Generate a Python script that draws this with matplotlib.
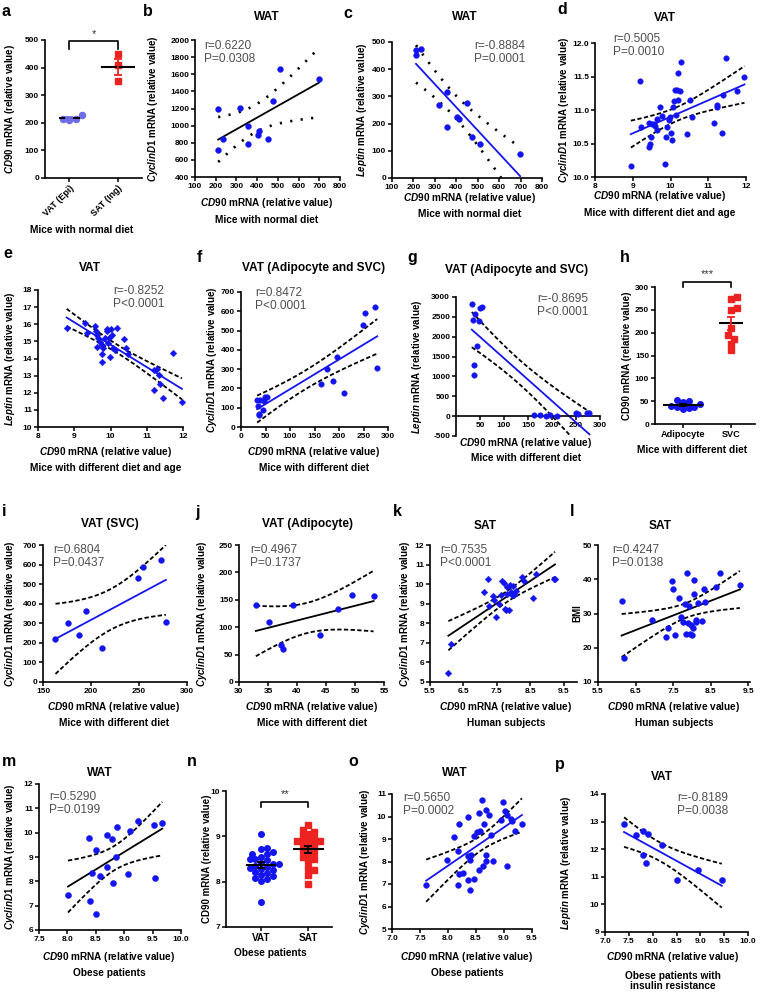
import matplotlib

matplotlib.use("Agg")
import matplotlib.pyplot as plt
import numpy as np
from matplotlib.ticker import FormatStrFormatter

plt.rcParams["font.family"] = ["Liberation Sans", "DejaVu Sans"]
plt.rcParams["font.weight"] = "bold"
plt.rcParams["mathtext.fontset"] = "custom"
plt.rcParams["mathtext.it"] = "Liberation Sans:italic:bold"
plt.rcParams["mathtext.rm"] = "Liberation Sans:bold"
plt.rcParams["mathtext.bf"] = "Liberation Sans:bold"
plt.rcParams["axes.linewidth"] = 1.2

BLUE = "#1414f0"
RED = "#ec2320"
LILAC = "#6e6ee8"
GREY = "#505050"

# ---------------- data ----------------
# a: CD90 in VAT (Epi) vs SAT (Ing), mice with normal diet
a_vat = [230, 215, 209, 213]
a_sat = [450, 410, 350]

# b, c: WAT, mice with normal diet
normal_cd90 = [212, 212, 237, 317, 355, 355, 403, 411, 452, 475, 512, 698]
normal_cyclin = [1200, 720, 840, 1210, 990, 785, 890, 940, 845, 1285, 1660, 1545]
normal_leptin = [470, 454, 476, 268, 317, 189, 223, 217, 277, 152, 124, 89]

# d: VAT, diet and age, CD90 vs CyclinD1
d_cd90 = [8.95, 9.19, 9.22, 9.44, 9.44, 9.46, 9.48, 9.50, 9.55, 9.60, 9.64, 9.65,
          9.73, 9.77, 9.86, 9.88, 9.92, 9.97, 9.99, 10.01, 10.04, 10.06, 10.08,
          10.12, 10.15, 10.17, 10.19, 10.21, 10.26, 10.27, 10.52, 10.58, 10.43,
          11.15, 11.23, 11.23, 11.36, 11.39, 11.48, 11.76, 11.96]
d_cyclin = [10.17, 11.44, 10.75, 10.81, 10.45, 10.49, 10.60, 10.79, 10.79, 10.76,
            10.70, 10.87, 11.05, 10.91, 10.20, 10.60, 10.75, 10.85, 10.90, 10.65,
            10.55, 11.05, 11.14, 11.30, 10.92, 11.30, 11.55, 11.15, 11.29, 11.72,
            11.15, 10.89, 10.64, 10.81, 11.08, 11.04, 10.65, 11.22, 11.78, 11.28,
            11.49]

# e: VAT, diet and age, CD90 vs Leptin
e_cd90 = [8.79, 9.29, 9.36, 9.57, 9.60, 9.63, 9.66, 9.62, 9.71, 9.76, 9.76, 9.77,
          9.80, 9.85, 9.89, 9.91, 9.94, 9.97, 10.00, 9.99, 10.03, 10.08, 10.12,
          10.17, 10.36, 10.43, 10.49, 11.19, 11.20, 11.28, 11.33, 11.36, 11.45,
          11.72, 11.97]
e_leptin = [15.76, 16.10, 15.46, 15.90, 15.60, 15.37, 15.17, 14.68, 14.94, 14.78,
            14.29, 13.80, 14.59, 15.17, 15.60, 15.72, 14.88, 15.21, 15.72, 14.10,
            15.37, 14.59, 14.49, 15.80, 15.13, 14.59, 14.29, 13.32, 12.15, 13.41,
            13.02, 12.54, 11.70, 14.33, 11.46]

# f-j: VAT fractions, mice with different diet
svc_cd90 = [163, 176, 187, 195, 211, 249, 254, 273, 278]
svc_cyclin = [221, 299, 238, 363, 174, 531, 589, 624, 305]
svc_leptin = [25, 40, 10, 40, 15, 80, 45, 70, 70]
adi_cd90 = [32.9, 35.1, 37.2, 37.5, 39.3, 44.0, 47.1, 49.4, 53.2]
adi_cyclin = [140, 110, 67, 60, 140, 86, 134, 158, 157]
adi_leptin = [2830, 2430, 1280, 1040, 2560, 1770, 2400, 2720, 2760]

# k, l: SAT, human subjects
k_cd90 = [6.05, 6.12, 7.11, 7.23, 7.26, 7.38, 7.41, 7.47, 7.56, 7.63, 7.66, 7.71,
          7.73, 7.77, 7.79, 7.81, 7.87, 7.89, 7.93, 7.96, 7.99, 8.01, 8.06, 8.26,
          8.31, 8.57, 8.67, 9.20, 9.24]
k_cyclin = [5.44, 6.93, 9.59, 10.27, 8.86, 9.37, 9.20, 8.32, 9.00, 9.42, 10.15,
            10.05, 8.75, 8.66, 9.85, 9.50, 8.69, 9.98, 9.59, 9.42, 9.88, 9.47,
            9.64, 10.36, 10.15, 9.30, 10.53, 10.27, 10.24]
l_cd90 = [6.13, 6.20, 6.94, 7.30, 7.37, 7.47, 7.50, 7.54, 7.65, 7.71, 7.77, 7.83,
          7.85, 7.87, 7.89, 7.92, 7.94, 7.98, 8.01, 8.03, 8.05, 8.07, 8.10, 8.12,
          8.16, 8.28, 8.32, 8.34, 8.64, 8.75, 9.28]
l_bmi = [33.6, 17.1, 28.1, 23.2, 25.7, 39.5, 37.1, 23.6, 34.6, 29.1, 27.6, 32.7,
         24.0, 41.7, 27.1, 32.2, 24.0, 26.6, 23.7, 25.7, 39.8, 35.6, 27.4, 28.1,
         33.0, 27.8, 37.1, 33.5, 37.8, 41.7, 38.3]

# m: WAT, obese patients
m_cd90 = [8.01, 8.38, 8.39, 8.44, 8.51, 8.50, 8.57, 8.69, 8.70, 8.78, 8.81, 8.86,
          8.88, 9.06, 9.11, 9.24, 9.52, 9.54, 9.67]
m_cyclin = [7.45, 9.80, 7.20, 8.35, 9.30, 6.65, 8.20, 8.60, 9.90, 9.75, 7.95, 8.98,
            10.22, 8.32, 10.08, 10.50, 10.33, 8.15, 10.38]

# n: CD90 in VAT vs SAT, obese patients
n_vat = [9.05, 8.75, 8.72, 8.65, 8.62, 8.60, 8.55, 8.50, 8.50, 8.47, 8.42, 8.40,
         8.38, 8.35, 8.33, 8.30, 8.28, 8.25, 8.22, 8.20, 8.15, 8.12, 8.08, 8.05,
         8.02, 7.55]
n_sat = [9.25, 9.15, 9.10, 9.05, 9.00, 8.95, 8.90, 8.90, 8.90, 8.85, 8.80, 8.75,
         8.70, 8.65, 8.60, 8.55, 8.50, 8.45, 8.30, 8.25, 8.15, 7.95]

# o: WAT, obese patients
o_cd90 = [7.61, 7.98, 8.11, 8.20, 8.18, 8.20, 8.18, 8.27, 8.35, 8.36, 8.35, 8.39,
          8.41, 8.40, 8.46, 8.47, 8.52, 8.55, 8.56, 8.58, 8.61, 8.62, 8.65, 8.68,
          8.68, 8.68, 8.74, 8.77, 8.80, 8.95, 9.05, 8.98, 9.01, 9.05, 9.13, 9.14,
          9.20, 9.32]
o_cyclin = [6.94, 8.05, 9.09, 9.68, 8.47, 7.44, 6.97, 7.49, 8.23, 9.98, 7.16, 8.05,
            8.30, 6.72, 7.22, 9.12, 9.30, 10.16, 7.64, 9.34, 10.75, 7.81, 9.65,
            8.30, 8.01, 10.30, 10.08, 9.19, 8.01, 9.86, 7.79, 10.63, 10.26, 10.08,
            9.89, 9.79, 9.34, 9.68]

# p: VAT, obese patients with insulin resistance
p_cd90 = [7.40, 7.65, 7.80, 7.90, 7.80, 7.85, 8.20, 8.50, 8.95, 9.45]
p_leptin = [12.90, 12.50, 12.65, 12.55, 11.80, 11.50, 12.15, 10.90, 11.25, 10.90]

# ---------------- helpers ----------------
W, H = 760, 992
fig = plt.figure(figsize=(W / 100, H / 100), dpi=100)

CYC = r"$\it{CyclinD1}$ mRNA (relative value)"
LEP = r"$\it{Leptin}$ mRNA (relative value)"
CD90_I = r"$\it{CD90}$ mRNA (relative value)"


def ptext(x, y, s, **kw):
    return fig.text(x / W, 1 - y / H, s, **kw)


def new_ax(box, xlim, ylim, xticks, yticks, xfmt="%g", yfmt="%g"):
    l, t, r, b = box
    ax = fig.add_axes([l / W, 1 - b / H, (r - l) / W, (b - t) / H])
    ax.set_xlim(*xlim)
    ax.set_ylim(*ylim)
    ax.set_xticks(xticks)
    ax.set_yticks(yticks)
    ax.xaxis.set_major_formatter(FormatStrFormatter(xfmt))
    ax.yaxis.set_major_formatter(FormatStrFormatter(yfmt))
    ax.spines[["top", "right"]].set_visible(False)
    ax.tick_params(direction="out", length=3, width=1.1, labelsize=6, pad=1.2)
    ax.patch.set_visible(False)
    ax._box = box
    return ax


def ylab(ax, x, s):
    l, t, r, b = ax._box
    ptext(x, (t + b) / 2, s, rotation=90, ha="center", va="center", fontsize=7)


def t_crit(df):
    # Cornish-Fisher expansion of the 97.5 % Student t quantile
    z = 1.959964
    return (z + (z**3 + z) / (4 * df)
            + (5 * z**5 + 16 * z**3 + 3 * z) / (96 * df**2)
            + (3 * z**7 + 19 * z**5 + 17 * z**3 - 15 * z) / (384 * df**3))


def reg(ax, x, y, fit_color, dotted=False, marker="o", ms=4.2):
    x = np.asarray(x, float)
    y = np.asarray(y, float)
    n = len(x)
    a, b = np.polyfit(x, y, 1)
    xs = np.linspace(x.min(), x.max(), 200)
    yh = a * xs + b
    s = np.sqrt(np.sum((y - (a * x + b)) ** 2) / (n - 2))
    sxx = np.sum((x - x.mean()) ** 2)
    band = t_crit(n - 2) * s * np.sqrt(1 / n + (xs - x.mean()) ** 2 / sxx)
    if dotted:
        ls, lw = (0, (0.8, 3.2)), 1.9
    else:
        ls, lw = (0, (2.4, 1.3)), 1.3
    for sign in (1, -1):
        ax.plot(xs, yh + sign * band, color="black", ls=ls, lw=lw, zorder=2)
    ax.plot(xs, yh, color=fit_color, lw=1.3, zorder=2)
    ax.plot(x, y, marker, ls="none", ms=ms, color=BLUE, mec=BLUE, mew=0.3,
            zorder=3, clip_on=False)


def swarm(ax, vals, diam):
    l, t, r, b = ax._box
    x0, x1 = ax.get_xlim()
    y0, y1 = ax.get_ylim()
    sx = (r - l) / (x1 - x0)
    sy = (b - t) / (y1 - y0)
    ypx = (np.asarray(vals, float) - y0) * sy
    placed = []
    offs = np.zeros(len(ypx))
    cands = [0.0]
    for j in range(1, 60):
        cands += [j * diam * 0.5, -j * diam * 0.5]
    for k in np.argsort(ypx):
        for c in cands:
            if all((c - px) ** 2 + (ypx[k] - py) ** 2 >= diam**2 * 0.92
                   for px, py in placed):
                break
        placed.append((c, ypx[k]))
        offs[k] = c / sx
    return offs


def columns(ax, groups, colors, markers, ms, halfw, errc):
    for i, vals in enumerate(groups):
        vals = np.asarray(vals, float)
        off = swarm(ax, vals, ms * 1.45)
        ax.plot(i + off, vals, markers[i], ls="none", ms=ms, color=colors[i],
                mec=colors[i], zorder=3, clip_on=False)
        m = vals.mean()
        sem = vals.std(ddof=1) / np.sqrt(len(vals))
        ax.plot([i - halfw[i], i + halfw[i]], [m, m], color="black", lw=1.5,
                zorder=4)
        ax.errorbar(i, m, yerr=sem, color=errc[i], capsize=3.2, capthick=1.3,
                    lw=1.3, zorder=4)


def bracket(ax, top, drop, stars, gap, fs=8):
    ax.plot([0, 0, 1, 1], [top - drop, top, top, top - drop], color="black",
            lw=1.2, clip_on=False)
    ax.text(0.5, top + gap, stars, ha="center", va="bottom", fontsize=fs,
            weight="normal", color="#333333")


def rp(x, y, s):
    ptext(x, y, s, ha="left", va="top", fontsize=8.6, weight="normal",
          color=GREY, linespacing=1.15)


def xlab(xc, y1, y2, s1, s2):
    if s1:
        ptext(xc, y1, s1, ha="center", va="center", fontsize=7.2)
    ptext(xc, y2, s2, ha="center", va="center", fontsize=7.3,
          linespacing=1.0)


def title(xc, y, s):
    ptext(xc, y, s, ha="center", va="center", fontsize=8.6)


def letter(x, y, s):
    ptext(x, y, s, ha="left", va="center", fontsize=11.5)


# ---------------- row 1 ----------------
ax = new_ax((45, 40, 142, 178), (-0.5, 1.5), (0, 500), [0, 1], range(0, 501, 100))
columns(ax, [a_vat, a_sat], [LILAC, RED], ["o", "s"], 4.4, [0.2, 0.33], [LILAC, RED])
ax.set_xticklabels(["VAT (Epi)", "SAT (Ing)"], rotation=45, ha="right",
                   rotation_mode="anchor", fontsize=6.5)
bracket(ax, 497, 28, "*", 8)
ylab(ax, 10, CD90_I)
xlab(82, 0, 230, None, "Mice with normal diet")
letter(2, 12, "a")

ax = new_ax((195, 40, 340, 177), (100, 800), (400, 2000), range(100, 801, 100),
            range(400, 2001, 200))
reg(ax, normal_cd90, normal_cyclin, "black", dotted=True)
ylab(ax, 153, CYC)
title(267, 17, "WAT")
rp(204, 40, "r=0.6220\nP=0.0308")
xlab(267, 203, 220, CD90_I, "Mice with normal diet")
letter(143, 12, "b")

ax = new_ax((392, 42, 542, 178), (100, 800), (0, 500), range(100, 801, 100),
            range(0, 501, 100))
reg(ax, normal_cd90, normal_leptin, BLUE, dotted=True)
ylab(ax, 362, LEP)
title(465, 17, "WAT")
rp(474, 40, "r=-0.8884\nP=0.0001")
xlab(470, 198, 214, CD90_I, "Mice with normal diet")
letter(343, 14, "c")

ax = new_ax((595, 43, 746, 177), (8, 12), (10, 12), range(8, 13),
            np.arange(10, 12.01, 0.5), yfmt="%.1f")
reg(ax, d_cd90, d_cyclin, BLUE, ms=4.0)
ylab(ax, 564, CYC)
title(665, 18, "VAT")
rp(613, 33, "r=0.5005\nP=0.0010")
xlab(660, 196, 213, CD90_I, "Mice with different diet and age")
letter(557, 10, "d")

# ---------------- row 2 ----------------
ax = new_ax((38, 290, 183, 427), (8, 12), (10, 18), range(8, 13), range(10, 19))
reg(ax, e_cd90, e_leptin, BLUE, marker="D", ms=3.4)
ylab(ax, 10, LEP)
title(90, 268, "VAT")
rp(113, 285, "r=-0.8252\nP<0.0001")
xlab(106, 452, 468, CD90_I, "Mice with different diet and age")
letter(3, 253, "e")

ax = new_ax((241, 292, 388, 427), (0, 300), (0, 700), range(0, 301, 50),
            range(0, 701, 100))
reg(ax, adi_cd90 + svc_cd90, adi_cyclin + svc_cyclin, BLUE, ms=4.0)
ylab(ax, 212, CYC)
title(314, 268, "VAT (Adipocyte and SVC)")
rp(255, 287, "r=0.8472\nP<0.0001")
xlab(314, 452, 468, CD90_I, "Mice with different diet")
letter(197, 257, "f")

ax = new_ax((456, 297, 600, 436), (0, 300), (-500, 3000), range(50, 301, 50),
            range(-500, 3001, 500))
ax.spines["bottom"].set_position(("data", 0))
reg(ax, adi_cd90 + svc_cd90, adi_leptin + svc_leptin, BLUE, ms=4.0)
ylab(ax, 417, LEP)
title(517, 270, "VAT (Adipocyte and SVC)")
rp(537, 293, "r=-0.8695\nP<0.0001")
xlab(526, 443, 458, CD90_I, "Mice with different diet")
letter(407, 258, "g")

ax = new_ax((655, 287, 755, 424), (-0.58, 1.5), (0, 300), [0, 1], range(0, 301, 50))
columns(ax, [adi_cd90, svc_cd90], [BLUE, RED], ["o", "s"], 4.0, [0.4, 0.22],
        ["black", RED])
ax.set_xticklabels(["Adipocyte", "SVC"], fontsize=6.6)
bracket(ax, 312, 12, "***", 5)
ylab(ax, 627, "CD90 mRNA (relative value)")
xlab(692, 0, 450, None, "Mice with different diet")
letter(620, 257, "h")

# ---------------- row 3 ----------------
ax = new_ax((43, 545, 187, 682), (150, 300), (0, 700), range(150, 301, 50),
            range(0, 701, 100))
reg(ax, svc_cd90, svc_cyclin, BLUE)
ylab(ax, 10, CYC)
title(110, 524, "VAT (SVC)")
rp(53, 544, "r=0.6804\nP=0.0437")
xlab(114, 707, 723, CD90_I, "Mice with different diet")
letter(2, 512, "i")

ax = new_ax((239, 545, 384, 682), (30, 55), (0, 250), range(30, 56, 5),
            range(0, 251, 50))
reg(ax, adi_cd90, adi_cyclin, "black")
ylab(ax, 202, CYC)
title(308, 524, "VAT (Adipocyte)")
rp(250, 544, "r=0.4967\nP=0.1737")
xlab(312, 707, 723, CD90_I, "Mice with different diet")
letter(195, 512, "j")

ax = new_ax((430, 545, 577, 682), (5.5, 9.9), (5, 12), np.arange(5.5, 9.6, 1.0),
            range(5, 13), xfmt="%.1f")
reg(ax, k_cd90, k_cyclin, "black", marker="D", ms=3.4)
ylab(ax, 405, CYC)
title(485, 526, "SAT")
rp(440, 544, "r=0.7535\nP<0.0001")
xlab(506, 707, 723, CD90_I, "Human subjects")
letter(393, 512, "k")

ax = new_ax((598, 545, 750, 682), (5.5, 9.55), (10, 50), np.arange(5.5, 9.6, 1.0),
            range(10, 51, 10), xfmt="%.1f")
reg(ax, l_cd90, l_bmi, "black")
ylab(ax, 577, "BMI")
title(660, 526, "SAT")
rp(612, 544, "r=0.4247\nP=0.0138")
xlab(674, 707, 723, CD90_I, "Human subjects")
letter(570, 512, "l")

# ---------------- row 4 ----------------
ax = new_ax((39, 784, 181, 930), (7.5, 10), (6, 12), np.arange(7.5, 10.01, 0.5),
            range(6, 13), xfmt="%.1f")
reg(ax, m_cd90, m_cyclin, "black", ms=4.4)
ylab(ax, 10, CYC)
title(100, 773, "WAT")
rp(49, 791, "r=0.5290\nP=0.0199")
xlab(109, 957, 973, CD90_I, "Obese patients")
letter(2, 762, "m")

ax = new_ax((226, 791, 332, 927), (-0.745, 1.5), (7, 10), [0, 1], range(7, 11))
columns(ax, [n_vat, n_sat], [BLUE, RED], ["o", "s"], 4.0, [0.3, 0.3],
        ["black", "black"])
ax.set_xticklabels(["VAT", "SAT"], fontsize=7.2)
bracket(ax, 9.76, 0.11, "**", 0.06)
ylab(ax, 207, "CD90 mRNA (relative value)")
xlab(270, 0, 953, None, "Obese patients")
letter(187, 762, "n")

ax = new_ax((392, 794, 532, 929), (7.0, 9.5), (5, 11), np.arange(7.0, 9.51, 0.5),
            range(5, 12), xfmt="%.1f")
reg(ax, o_cd90, o_cyclin, BLUE, ms=4.2)
ylab(ax, 365, CYC)
title(455, 773, "WAT")
rp(403, 792, "r=0.5650\nP=0.0002")
xlab(467, 957, 973, CD90_I, "Obese patients")
letter(348, 762, "o")

ax = new_ax((605, 794, 748, 932), (7.0, 10.0), (9, 14), np.arange(7.0, 10.01, 0.5),
            range(9, 15), xfmt="%.1f")
reg(ax, p_cd90, p_leptin, BLUE, ms=4.4)
ylab(ax, 566, LEP)
title(662, 777, "VAT")
rp(677, 792, "r=-0.8189\nP=0.0038")
xlab(673, 957, 981, CD90_I, "Obese patients with\ninsulin resistance")
letter(555, 765, "p")

fig.savefig("out.png", dpi=100)
